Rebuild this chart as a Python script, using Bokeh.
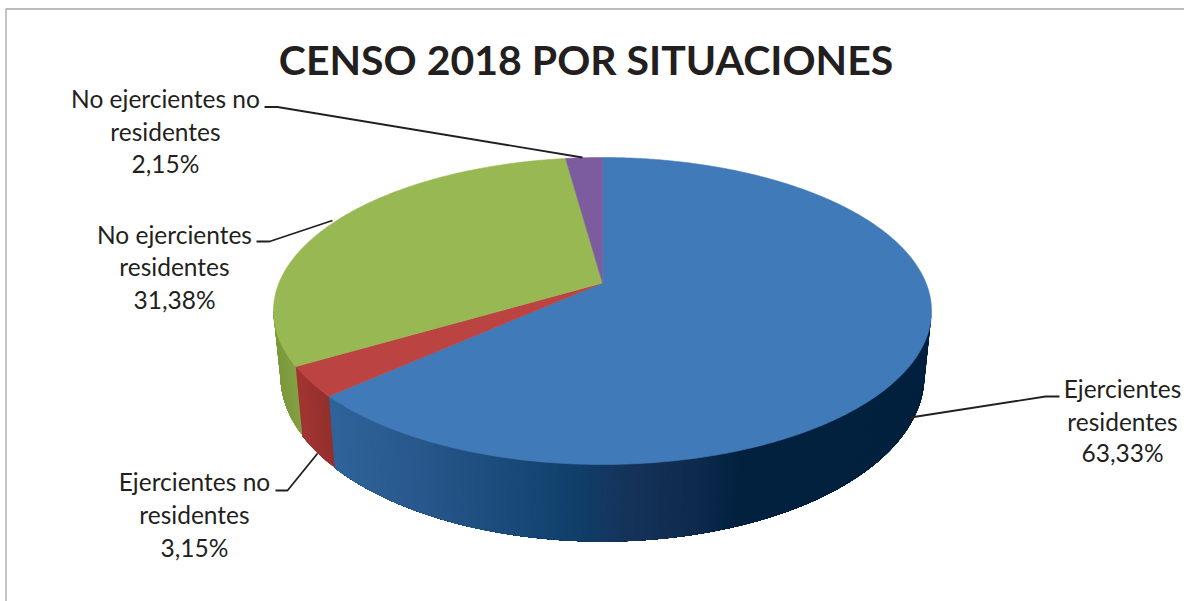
import numpy as np
from bokeh.plotting import figure
from bokeh.embed import file_html
from bokeh.resources import INLINE
from bokeh.core.properties import value

TITLE = "CENSO 2018 POR SITUACIONES"
categories = ["Ejercientes residentes", "Ejercientes no residentes",
              "No ejercientes residentes", "No ejercientes no residentes"]
shares = [63.33, 3.15, 31.38, 2.15]
top_colors = ["#417ab9", "#bb4342", "#98b853", "#7c5c9f"]

label_lines = [["Ejercientes", "residentes"], ["Ejercientes no", "residentes"],
               ["No ejercientes", "residentes"], ["No ejercientes no", "residentes"]]
label_cx = [1122, 194, 174, 165]
label_ys = [[387.5, 420.5, 451.5], [480.5, 513.5, 546.5], [233.5, 265.5, 298.5], [97.5, 130.5, 162.5]]
leaders = [
    ([1059, 1045, 910], [396, 396, 417]),
    ([275, 287, 317], [490, 490, 453]),
    ([256, 269, 332], [241, 241, 220]),
    ([264, 277, 582], [106.5, 106.5, 157]),
]

W, H = 1184, 601
p = figure(width=W, height=H, x_range=(0, W), y_range=(H, 0), output_backend="svg",
           toolbar_location=None, min_border=0, outline_line_color=None,
           background_fill_color="white", border_fill_color="white")
p.styles = {"position": "absolute", "left": "0", "top": "0"}
p.axis.visible = False
p.grid.visible = False

# perspective projection of the pie's circle
CX, PY = 602.0, 282.5
C, A, K = 0.1824, -96.86, 323.5
ELL_Y, BOT_Y, BOT_RY, TOP_RY, BOT_RX, TOP_RX = 310.5, 375.0, 166.0, 153.5, 322.0, 329.0


def top_pt(theta):
    u, v = np.sin(theta), np.cos(theta)
    d = 1 + C * v
    return CX + K * u / d, (A * v + PY) / d


def bot_pt(theta):
    x, y = top_pt(theta)
    return CX + (x - CX) * BOT_RX / TOP_RX, BOT_Y + (y - ELL_Y) * BOT_RY / TOP_RY


def side_blue(x):
    xs = [330, 420, 500, 580, 630, 700, 745]
    rs = [0x30, 0x28, 0x1c, 0x10, 0x16, 0x0e, 0x01]
    gs = [0x64, 0x58, 0x4c, 0x3f, 0x33, 0x2a, 0x21]
    bs = [0x9a, 0x8c, 0x7c, 0x6a, 0x5a, 0x4d, 0x3f]
    return np.interp(x, xs, rs), np.interp(x, xs, gs), np.interp(x, xs, bs)


def side_red(x):
    return np.interp(x, [303, 336], [0xa0, 0x90]), np.interp(x, [303, 336], [0x35, 0x2e]), np.interp(x, [303, 336], [0x32, 0x2c])


def side_green(x):
    return np.interp(x, [278, 303], [0x7c, 0x86]), np.interp(x, [278, 303], [0x9a, 0xa4]), np.interp(x, [278, 303], [0x3d, 0x48])


side_shades = [side_blue, side_red, side_green, None]

fractions = np.array(shares) / sum(shares)
edges = np.concatenate([[0.0], np.cumsum(fractions)]) * 2 * np.pi

# visible side wall: overlapping strips painted in order, each running on to the end
# of its slice so that no seam shows between neighbours
vis = np.arccos(-C)
xs_side, ys_side, cols_side = [], [], []
for i, shade in enumerate(side_shades):
    if shade is None:
        continue
    a0 = max(edges[i], vis)
    a1 = min(edges[i + 1], 2 * np.pi - vis)
    if a1 <= a0:
        continue
    n = max(int(np.degrees(a1 - a0)) * 2, 4)
    ts = np.linspace(a0, a1, n + 1)
    for t0 in ts[:-1]:
        run = np.linspace(t0, a1, 40) if a1 - t0 > 0.02 else np.array([t0, a1])
        tx, ty = top_pt(run)
        bx, by = bot_pt(run)
        r, g, b = shade(top_pt(t0)[0])
        xs_side.append(np.r_[tx, bx[::-1]])
        ys_side.append(np.r_[ty, by[::-1]])
        cols_side.append("#%02x%02x%02x" % (int(r), int(g), int(b)))
# paint so that every strip is overdrawn by the ones further along its slice
p.patches(xs_side, ys_side, fill_color=cols_side, line_color=None)

# top face
for i, col in enumerate(top_colors):
    ts = np.linspace(edges[i], edges[i + 1], max(int(np.degrees(edges[i + 1] - edges[i])) * 2, 4))
    x, y = top_pt(ts)
    p.patch(np.r_[CX, x], np.r_[PY, y], fill_color=col, line_color=col, line_width=0.6)

# leader lines
for lx, ly in leaders:
    p.line(lx, ly, line_color="#231f20", line_width=1.8)

# labels
txt_x, txt_y, txt = [], [], []
for lines, cx, ys, s in zip(label_lines, label_cx, label_ys, shares):
    for t, yy in zip(lines + [f"{s:.2f}%".replace(".", ",")], ys):
        txt_x.append(cx); txt_y.append(yy); txt.append(t)
p.text(txt_x, txt_y, text=txt, text_font=value("Lato"), text_font_size="24.5px",
       text_color="#231f20", text_align="center", text_baseline="middle")
p.text([585.5], [58.5], text=[TITLE], text_font=value("Lato"), text_font_size="41px",
       text_font_style="bold", text_color="#231f20", text_align="center", text_baseline="middle")

# chart frame
p.line([5.5, 5.5, W], [H, 8.5, 8.5], line_color="#a6a6a6", line_width=1.3)

open("out.html", "w").write(file_html(p, INLINE))
